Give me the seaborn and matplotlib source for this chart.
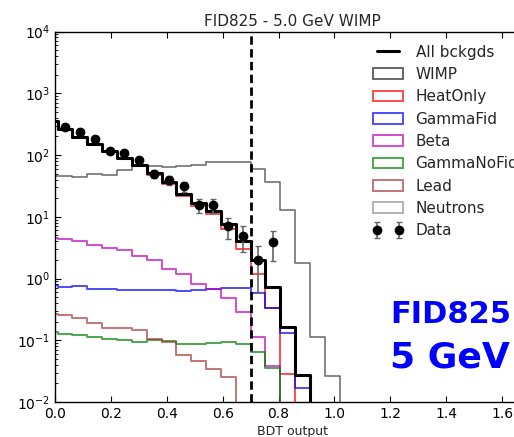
import numpy as np
import pandas as pd
import matplotlib
matplotlib.use("Agg")
import matplotlib.pyplot as plt
import seaborn as sns
from matplotlib.patches import Patch
from matplotlib.lines import Line2D
from matplotlib.colors import to_rgba

# ---- data (22 bins of BDT output, width 0.053125) ----
bin_start = -0.04375
bin_width = 0.053125
n_bins = 22

all_bckgds = [354, 262, 197, 149, 115, 90, 70, 51, 36.5, 23.5, 16.6, 12.6, 7.6, 4.1,
              1.98, 0.73, 0.164, 0.027, 0, 0, 0, 0]
wimp = [45.7, 45, 44, 49.8, 48, 57.8, 65.5, 66.4, 64, 66, 69.8, 77, 77, 77,
        60, 36.5, 13.1, 1.77, 0.111, 0.0265, 0, 0]
heat_only = [348, 257, 192, 145, 111, 86, 67, 48, 34, 21.5, 15.0, 11.1, 6.3, 3.0,
             1.17, 0.336, 0.028, 0, 0, 0, 0, 0]
gamma_fid = [0.78, 0.74, 0.77, 0.667, 0.68, 0.65, 0.64, 0.65, 0.65, 0.625, 0.64, 0.667,
             0.71, 0.71, 0.58, 0.336, 0.13, 0.0167, 0, 0, 0, 0]
beta = [4.6, 4.35, 4.08, 3.5, 3.1, 2.88, 2.33, 1.98, 1.41, 1.17, 0.80, 0.68, 0.49,
        0.284, 0.113, 0.0385, 0, 0, 0, 0, 0, 0]
gamma_nofid = [0.136, 0.128, 0.123, 0.113, 0.106, 0.0996, 0.0925, 0.0996, 0.096, 0.088,
               0.088, 0.090, 0.0925, 0.088, 0.0644, 0.0354, 0, 0, 0, 0, 0, 0]
lead = [0.271, 0.252, 0.233, 0.191, 0.158, 0.155, 0.145, 0.106, 0.0925, 0.058, 0.0453,
        0.0345, 0.0253, 0, 0, 0, 0, 0, 0, 0, 0, 0]
neutrons = [0] * 22

data_counts = [0, 287, 232, 180, 117, 107, 82, 50, 38.7, 30.9, 15.7, 15.6, 7.0, 4.9,
               2.0, 3.9, 0, 0, 0, 0, 0, 0]
data_err = [0, 16.9, 15.2, 13.4, 10.8, 10.3, 9.1, 7.1, 6.2, 5.6, 4.0, 3.9, 2.6, 2.2,
            1.4, 2.0, 0, 0, 0, 0, 0, 0]

cut_value = 0.7
title = "FID825 - 5.0 GeV WIMP"
xlabel = "BDT output"

# ---- style ----
sns.set_theme(style="ticks")
plt.rcParams["font.family"] = ["DejaVu Sans"]
plt.rcParams["mathtext.fontset"] = "dejavusans"

W, H = 514, 437
fig = plt.figure(figsize=(W / 100, H / 100), dpi=100)
ax = fig.add_axes([55 / W, 35 / H, 475 / W, 370.5 / H])
ax.set_yscale("log")

centers = bin_start + bin_width * (np.arange(n_bins) + 0.5)
bin_range = (bin_start, bin_start + bin_width * n_bins)

components = [
    ("WIMP", wimp, "#000000", 0.6, 1.1),
    ("HeatOnly", heat_only, "#ff0000", 0.7, 1.4),
    ("GammaFid", gamma_fid, "#0000ff", 0.7, 1.4),
    ("Beta", beta, "#bf00bf", 0.7, 1.4),
    ("GammaNoFid", gamma_nofid, "#008000", 0.7, 1.4),
    ("Lead", lead, "#a52a2a", 0.65, 1.4),
    ("Neutrons", neutrons, "#808080", 0.6, 1.4),
]

def step_hist(vals, col, alpha, lw):
    df = pd.DataFrame({"bdt": centers, "w": np.asarray(vals, dtype=float)})
    sns.histplot(data=df, x="bdt", weights="w", binwidth=bin_width, binrange=bin_range,
                 element="step", fill=False, color=col, alpha=alpha, linewidth=lw, ax=ax)

for name, vals, col, a, lw in components:
    step_hist(vals, col, a, lw)
step_hist(all_bckgds, "#000000", 1.0, 2.2)

ax.axvline(cut_value, color="black", linewidth=2.0, linestyle=(0, (3, 1.6)), zorder=3)

counts = np.array(data_counts, dtype=float)
errs = np.array(data_err, dtype=float)
mask = counts > 0
dc = ax.errorbar(centers[mask], counts[mask], yerr=errs[mask],
                 fmt="o", color="black", ecolor="0.4", elinewidth=1.2, capsize=2.5,
                 capthick=1.0, markersize=6, zorder=5, label="Data")

ax.set_xlim(0, 1.7)
ax.set_ylim(1e-2, 1e4)
ax.set_ylabel("")
ax.set_xlabel(xlabel, fontsize=9, labelpad=3)
ax.set_title(title, fontsize=11, pad=4)
ax.set_xticks(np.arange(0, 1.61, 0.2))
ax.tick_params(which="both", direction="in", top=True, right=True, labelsize=10,
               colors="black")
ax.tick_params(which="major", length=4, width=0.8)
ax.tick_params(which="minor", length=2, width=0.6)
for s in ax.spines.values():
    s.set_color("black")
    s.set_linewidth(1.0)

handles = [Line2D([], [], color="black", linewidth=2.2)]
labels = ["All bckgds"]
for name, vals, col, a, lw in components:
    handles.append(Patch(facecolor="none", edgecolor=to_rgba(col, a), linewidth=1.4))
    labels.append(name)
handles.append(dc)
labels.append("Data")

fig.legend(handles, labels, loc="upper left", bbox_to_anchor=(359 / W, 1 - 31 / H),
           bbox_transform=fig.transFigure, frameon=False, fontsize=11,
           handlelength=2.0, handleheight=0.7, labelspacing=0.48, numpoints=2,
           borderpad=0.4, handletextpad=0.8)

fig.text(390.5 / W, 1 - 323 / H, "FID825", fontsize=22, fontweight="bold", color="blue",
         ha="left", va="baseline")
fig.text(390.5 / W, 1 - 367 / H, "5 GeV", fontsize=26, fontweight="bold", color="blue",
         ha="left", va="baseline")

fig.savefig("out.png", dpi=100)
